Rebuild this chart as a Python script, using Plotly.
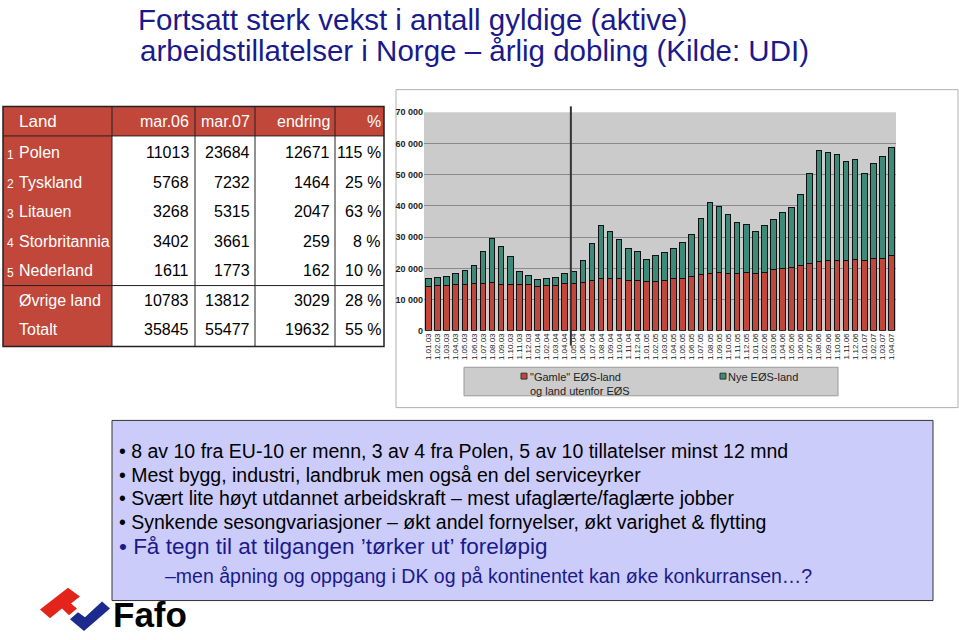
import plotly.graph_objects as go

W, H = 959, 640
def X(px): return px / W
def Y(py): return 1 - py / H
def path(points):
    s = "M " + " L ".join(f"{X(a):.5f},{Y(b):.5f}" for a, b in points) + " Z"
    return s

# ---------------- data ----------------
months = ["1.01.03","1.02.03","1.03.03","1.04.03","1.05.03","1.06.03","1.07.03","1.08.03","1.09.03","1.10.03","1.11.03","1.12.03",
          "1.01.04","1.02.04","1.03.04","1.04.04","1.05.04","1.06.04","1.07.04","1.08.04","1.09.04","1.10.04","1.11.04","1.12.04",
          "1.01.05","1.02.05","1.03.05","1.04.05","1.05.05","1.06.05","1.07.05","1.08.05","1.09.05","1.10.05","1.11.05","1.12.05",
          "1.01.06","1.02.06","1.03.06","1.04.06","1.05.06","1.06.06","1.07.06","1.08.06","1.09.06","1.10.06","1.11.06","1.12.06",
          "1.01.07","1.02.07","1.03.07","1.04.07"]
old_eea = [14100,14530,14630,14840,14740,15160,15260,15470,14840,14840,14950,14840,
           14210,14530,14530,15050,15050,15580,16210,16630,16740,16630,16110,16210,
           15790,15890,16210,16630,16740,17480,18000,18420,18630,18420,18420,18630,
           18420,18740,19580,19890,20320,21050,21580,22210,22630,22630,22630,22740,
           22530,23050,23260,24100]
new_eea = [2530,2420,2850,3580,4630,5680,10000,14000,12110,8840,4000,2950,
           2320,2210,2630,3370,4000,6950,11890,16950,15160,12740,10210,9050,
           7160,8110,8840,9690,11580,13470,17890,22840,21050,18840,16320,15480,
           13270,14940,16100,17900,19150,22530,28950,35580,34530,33900,31580,32100,
           28000,30530,32630,34530]
series_names = ['"Gamle" EØS-land<br>og land utenfor EØS', "Nye EØS-land"]
y_ticks = [0, 10000, 20000, 30000, 40000, 50000, 60000, 70000]

table_header = ["Land", "mar.06", "mar.07", "endring", "%"]
ranks = ["1", "2", "3", "4", "5", "", ""]
countries = ["Polen", "Tyskland", "Litauen", "Storbritannia", "Nederland", "Øvrige land", "Totalt"]
mar06 = [11013, 5768, 3268, 3402, 1611, 10783, 35845]
mar07 = [23684, 7232, 5315, 3661, 1773, 13812, 55477]
endring = [12671, 1464, 2047, 259, 162, 3029, 19632]
pct = [115, 25, 63, 8, 10, 28, 55]

title_lines = ["Fortsatt sterk vekst i antall gyldige (aktive)",
               "arbeidstillatelser i Norge – årlig dobling (Kilde: UDI)"]
bullets = ["• 8 av 10 fra EU-10 er menn, 3 av 4 fra Polen, 5 av 10 tillatelser minst 12 mnd",
           "• Mest bygg, industri, landbruk men også en del serviceyrker",
           "• Svært lite høyt utdannet arbeidskraft – mest ufaglærte/faglærte jobber",
           "• Synkende sesongvariasjoner – økt andel fornyelser, økt varighet & flytting"]
bullet_big = "• Få tegn til at tilgangen ’tørker ut’ foreløpig"
bullet_sub = "–men åpning og oppgang i DK og på kontinentet kan øke konkurransen…?"

RED = "#c0473a"
GREEN = "#3e8a79"
NAVY = "#1a1a8c"
FONT = "Liberation Sans, Arial, sans-serif"

fig = go.Figure()
fig.add_trace(go.Bar(x=months, y=old_eea, name=series_names[0], marker=dict(color=RED, line=dict(color="#111", width=1))))
fig.add_trace(go.Bar(x=months, y=new_eea, name=series_names[1], marker=dict(color=GREEN, line=dict(color="#111", width=1))))

shapes = []
annotations = []

# chart box
shapes.append(dict(type="rect", xref="paper", yref="paper", x0=X(396), x1=X(958), y0=Y(409), y1=Y(86),
                   line=dict(color="#b0b0b0", width=1), fillcolor="rgba(0,0,0,0)", layer="below"))
# vertical marker (EU enlargement, May 2004)
shapes.append(dict(type="line", xref="x", yref="paper", x0=15.68, x1=15.68, y0=Y(346), y1=Y(103),
                   line=dict(color="#333", width=2)))

# legend box
shapes.append(dict(type="rect", xref="paper", yref="paper", x0=X(464), x1=X(838), y0=Y(397), y1=Y(368),
                   line=dict(color="#999", width=1), fillcolor="#cccccc", layer="below"))
for sx, col in [(521, RED), (720, GREEN)]:
    shapes.append(dict(type="rect", xref="paper", yref="paper", x0=X(sx), x1=X(sx + 6), y0=Y(380), y1=Y(374),
                       line=dict(color="#333", width=1), fillcolor=col))
annotations.append(dict(x=X(528), y=Y(370), xref="paper", yref="paper", xanchor="left", yanchor="top", align="left",
                        text=series_names[0], showarrow=False, font=dict(family=FONT, size=11, color="#222")))
annotations.append(dict(x=X(726), y=Y(370), xref="paper", yref="paper", xanchor="left", yanchor="top", align="left",
                        text=series_names[1], showarrow=False, font=dict(family=FONT, size=11, color="#222")))

# title
for i, t in enumerate(title_lines):
    annotations.append(dict(x=X(136 + 2 * i), y=Y(15 + 31 * i), xref="paper", yref="paper", xanchor="left", yanchor="middle",
                            text=t, showarrow=False, font=dict(family=FONT, size=29.5, color=NAVY)))

# table
xe = [3, 112, 195, 255, 335, 384]
top, hb, sep, bot = 103, 133, 285, 347
shapes.append(dict(type="rect", xref="paper", yref="paper", x0=X(xe[0]), x1=X(xe[-1]), y0=Y(hb), y1=Y(top),
                   line=dict(width=0), fillcolor=RED))
shapes.append(dict(type="rect", xref="paper", yref="paper", x0=X(xe[0]), x1=X(xe[1]), y0=Y(bot), y1=Y(hb),
                   line=dict(width=0), fillcolor=RED))
for xv in xe[1:-1]:
    shapes.append(dict(type="line", xref="paper", yref="paper", x0=X(xv), x1=X(xv), y0=Y(bot), y1=Y(top),
                       line=dict(color="#222", width=1)))
for yv in [hb, sep]:
    shapes.append(dict(type="line", xref="paper", yref="paper", x0=X(xe[0]), x1=X(xe[-1]), y0=Y(yv), y1=Y(yv),
                       line=dict(color="#222", width=1)))
shapes.append(dict(type="rect", xref="paper", yref="paper", x0=X(xe[0]), x1=X(xe[-1]), y0=Y(bot), y1=Y(top),
                   line=dict(color="#222", width=1.5), fillcolor="rgba(0,0,0,0)"))

def txt(x, y, s, anchor, color, size, fam=FONT):
    annotations.append(dict(x=X(x), y=Y(y), xref="paper", yref="paper", xanchor=anchor, yanchor="middle",
                            text=s, showarrow=False, font=dict(family=fam, size=size, color=color)))

rights = [191, 252, 332, 383]
txt(17, 118, table_header[0], "left", "white", 17)
for j in range(1, 5):
    txt(rights[j - 1], 118, table_header[j], "right", "white", 16)
row_y = [150, 180, 210, 240, 270, 300, 330]
for i in range(7):
    if ranks[i]:
        txt(5, row_y[i] + 2, ranks[i], "left", "white", 12)
    txt(17, row_y[i], countries[i], "left", "white", 16)
    vals = [str(mar06[i]), str(mar07[i]), str(endring[i]), f"{pct[i]} %"]
    for j, v in enumerate(vals):
        txt(rights[j], row_y[i], v, "right", "black", 16)

# bullet box
shapes.append(dict(type="rect", xref="paper", yref="paper", x0=X(112), x1=X(933), y0=Y(605), y1=Y(422),
                   line=dict(color="#333", width=1), fillcolor="#ccccfa"))
for i, b in enumerate(bullets):
    annotations.append(dict(x=X(117), y=Y(453 + 24 * i), xref="paper", yref="paper", xanchor="left", yanchor="middle",
                            text=b, showarrow=False, font=dict(family=FONT, size=19.5, color="black")))
annotations.append(dict(x=X(117), y=Y(550), xref="paper", yref="paper", xanchor="left", yanchor="middle",
                        text=bullet_big, showarrow=False, font=dict(family=FONT, size=22.5, color=NAVY)))
annotations.append(dict(x=X(163), y=Y(580), xref="paper", yref="paper", xanchor="left", yanchor="middle",
                        text=bullet_sub, showarrow=False, font=dict(family=FONT, size=19.5, color=NAVY)))

# Fafo logo
shapes.append(dict(type="path", xref="paper", yref="paper",
                   path=path([(40, 614), (68, 592), (80, 601), (71, 608), (77, 613), (69, 620), (62, 613), (50, 623)]),
                   fillcolor="#e3241b", line=dict(width=0)))
shapes.append(dict(type="path", xref="paper", yref="paper",
                   path=path([(70, 624), (78, 617), (85, 622), (102, 606), (110, 613), (84, 636)]),
                   fillcolor="#1b2a8c", line=dict(width=0)))
annotations.append(dict(x=X(111), y=Y(619), xref="paper", yref="paper", xanchor="left", yanchor="middle",
                        text="<b>Fafo</b>", showarrow=False, font=dict(family=FONT, size=35, color="black")))

fig.update_layout(
    width=W, height=H, margin=dict(l=0, r=0, t=0, b=0),
    paper_bgcolor="white", plot_bgcolor="#cbcbcb",
    barmode="stack", bargap=0.38, showlegend=False,
    separators=", ",
    shapes=shapes, annotations=annotations,
    xaxis=dict(domain=[X(424), X(896)], type="category", tickangle=-90, showgrid=False,
               tickmode="linear", dtick=1,
               tickfont=dict(family=FONT, size=8, color="#222"), ticks="", showline=False),
    yaxis=dict(domain=[Y(331), Y(109)], range=[0, 70000], tickvals=y_ticks, tickformat=",d",
               showgrid=True, gridcolor="#8a8a8a", gridwidth=1, zeroline=False,
               tickfont=dict(family=FONT, size=9, color="#222", weight="bold"), ticks=""),
)
fig.write_html("out.html")
